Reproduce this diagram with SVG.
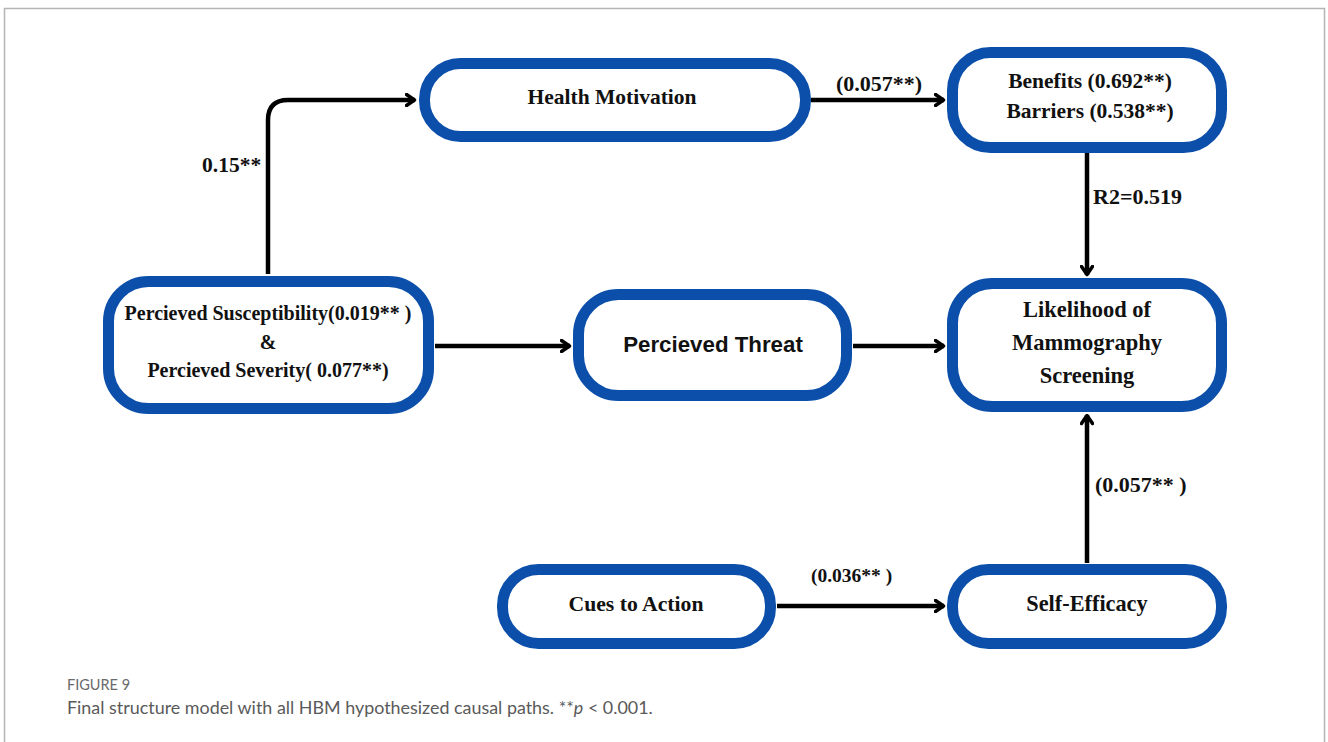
<svg xmlns="http://www.w3.org/2000/svg" width="1328" height="742" viewBox="0 0 1328 742">
<style>
.node{fill:#fff;stroke:#0b4fab;stroke-width:11}
.t{font-family:'Liberation Serif','Times New Roman',Times,serif;font-weight:700;fill:#111;text-anchor:middle}
.lbl{font-family:'Liberation Serif','Times New Roman',Times,serif;font-weight:700;fill:#111;font-size:22px}
.c{fill:none;stroke:#000;stroke-width:4.5}
.cap{font-family:Lato,'Open Sans',sans-serif}
</style>
<defs>
<marker id="ah" viewBox="0 0 12 14" refX="10.5" refY="7" markerWidth="12" markerHeight="14" markerUnits="userSpaceOnUse" orient="auto">
<polyline points="2,1.5 10,7 2,12.5" fill="none" stroke="#000" stroke-width="3.5" stroke-linecap="round" stroke-linejoin="round"/>
</marker>
</defs>
<rect width="1328" height="742" fill="#fff"/>
<path d="M4.5,742 V8.5 H1324.5 V742" fill="none" stroke="#b5b5b5" stroke-width="1.5"/>

<g id="connectors">
<path class="c" d="M268,274 V120 Q268,100 288,100 H415" marker-end="url(#ah)"/>
<path class="c" d="M811,100 H944" marker-end="url(#ah)"/>
<path class="c" d="M1087,153 V275" marker-end="url(#ah)"/>
<path class="c" d="M435,346 H570" marker-end="url(#ah)"/>
<path class="c" d="M853,346 H944" marker-end="url(#ah)"/>
<path class="c" d="M1087,563 V415" marker-end="url(#ah)"/>
<path class="c" d="M777,606 H944" marker-end="url(#ah)"/>
<text class="lbl" x="202" y="172" style="font-size:21.5px">0.15**</text>
<text class="lbl" x="836" y="91">(0.057**)</text>
<text class="lbl" x="1093" y="204">R2=0.519</text>
<text class="lbl" x="1095" y="492">(0.057** )</text>
<text class="lbl" x="811" y="582" style="font-size:19.5px">(0.036** )</text>
</g>

<g id="health-motivation">
<rect class="node" x="424.5" y="63.5" width="381" height="73" rx="36"/>
<text class="t" x="612" y="104" font-size="21.5">Health Motivation</text>
</g>
<g id="benefits-barriers">
<rect class="node" x="952.5" y="52.5" width="269" height="95" rx="38"/>
<text class="t" x="1090" y="88" font-size="21.5">Benefits (0.692**)</text>
<text class="t" x="1090" y="118" font-size="21.5">Barriers (0.538**)</text>
</g>
<g id="susceptibility-severity">
<rect class="node" x="108.5" y="281.5" width="320" height="127" rx="40"/>
<text class="t" x="268" y="320" font-size="20">Percieved Susceptibility(0.019** )</text>
<text class="t" x="268" y="349" font-size="20">&amp;</text>
<text class="t" x="268" y="377" font-size="20">Percieved Severity( 0.077**)</text>
</g>
<g id="perceived-threat">
<rect class="node" x="578.5" y="294.5" width="268" height="101" rx="40"/>
<text x="713" y="352" text-anchor="middle" font-family="'Liberation Sans',Arial,sans-serif" font-weight="bold" font-size="22.3" fill="#111">Percieved Threat</text>
</g>
<g id="likelihood">
<rect class="node" x="952.5" y="283.5" width="269" height="123" rx="40"/>
<text class="t" x="1087" y="317" font-size="22.5">Likelihood of</text>
<text class="t" x="1087" y="350" font-size="22.5">Mammography</text>
<text class="t" x="1087" y="383" font-size="22.5">Screening</text>
</g>
<g id="cues-to-action">
<rect class="node" x="502.5" y="569.5" width="268" height="74" rx="36"/>
<text class="t" x="636" y="611" font-size="21.7">Cues to Action</text>
</g>
<g id="self-efficacy">
<rect class="node" x="952.5" y="569.5" width="269" height="74" rx="36"/>
<text class="t" x="1087" y="611" font-size="22.3">Self-Efficacy</text>
</g>

<text class="cap" x="67" y="690" font-size="14.5" fill="#6a6a6a">FIGURE 9</text>
<text class="cap" x="67" y="714" font-size="17.9" fill="#5a5a5a">Final structure model with all HBM hypothesized causal paths. **<tspan font-style="italic">p</tspan> &lt; 0.001.</text>
</svg>
